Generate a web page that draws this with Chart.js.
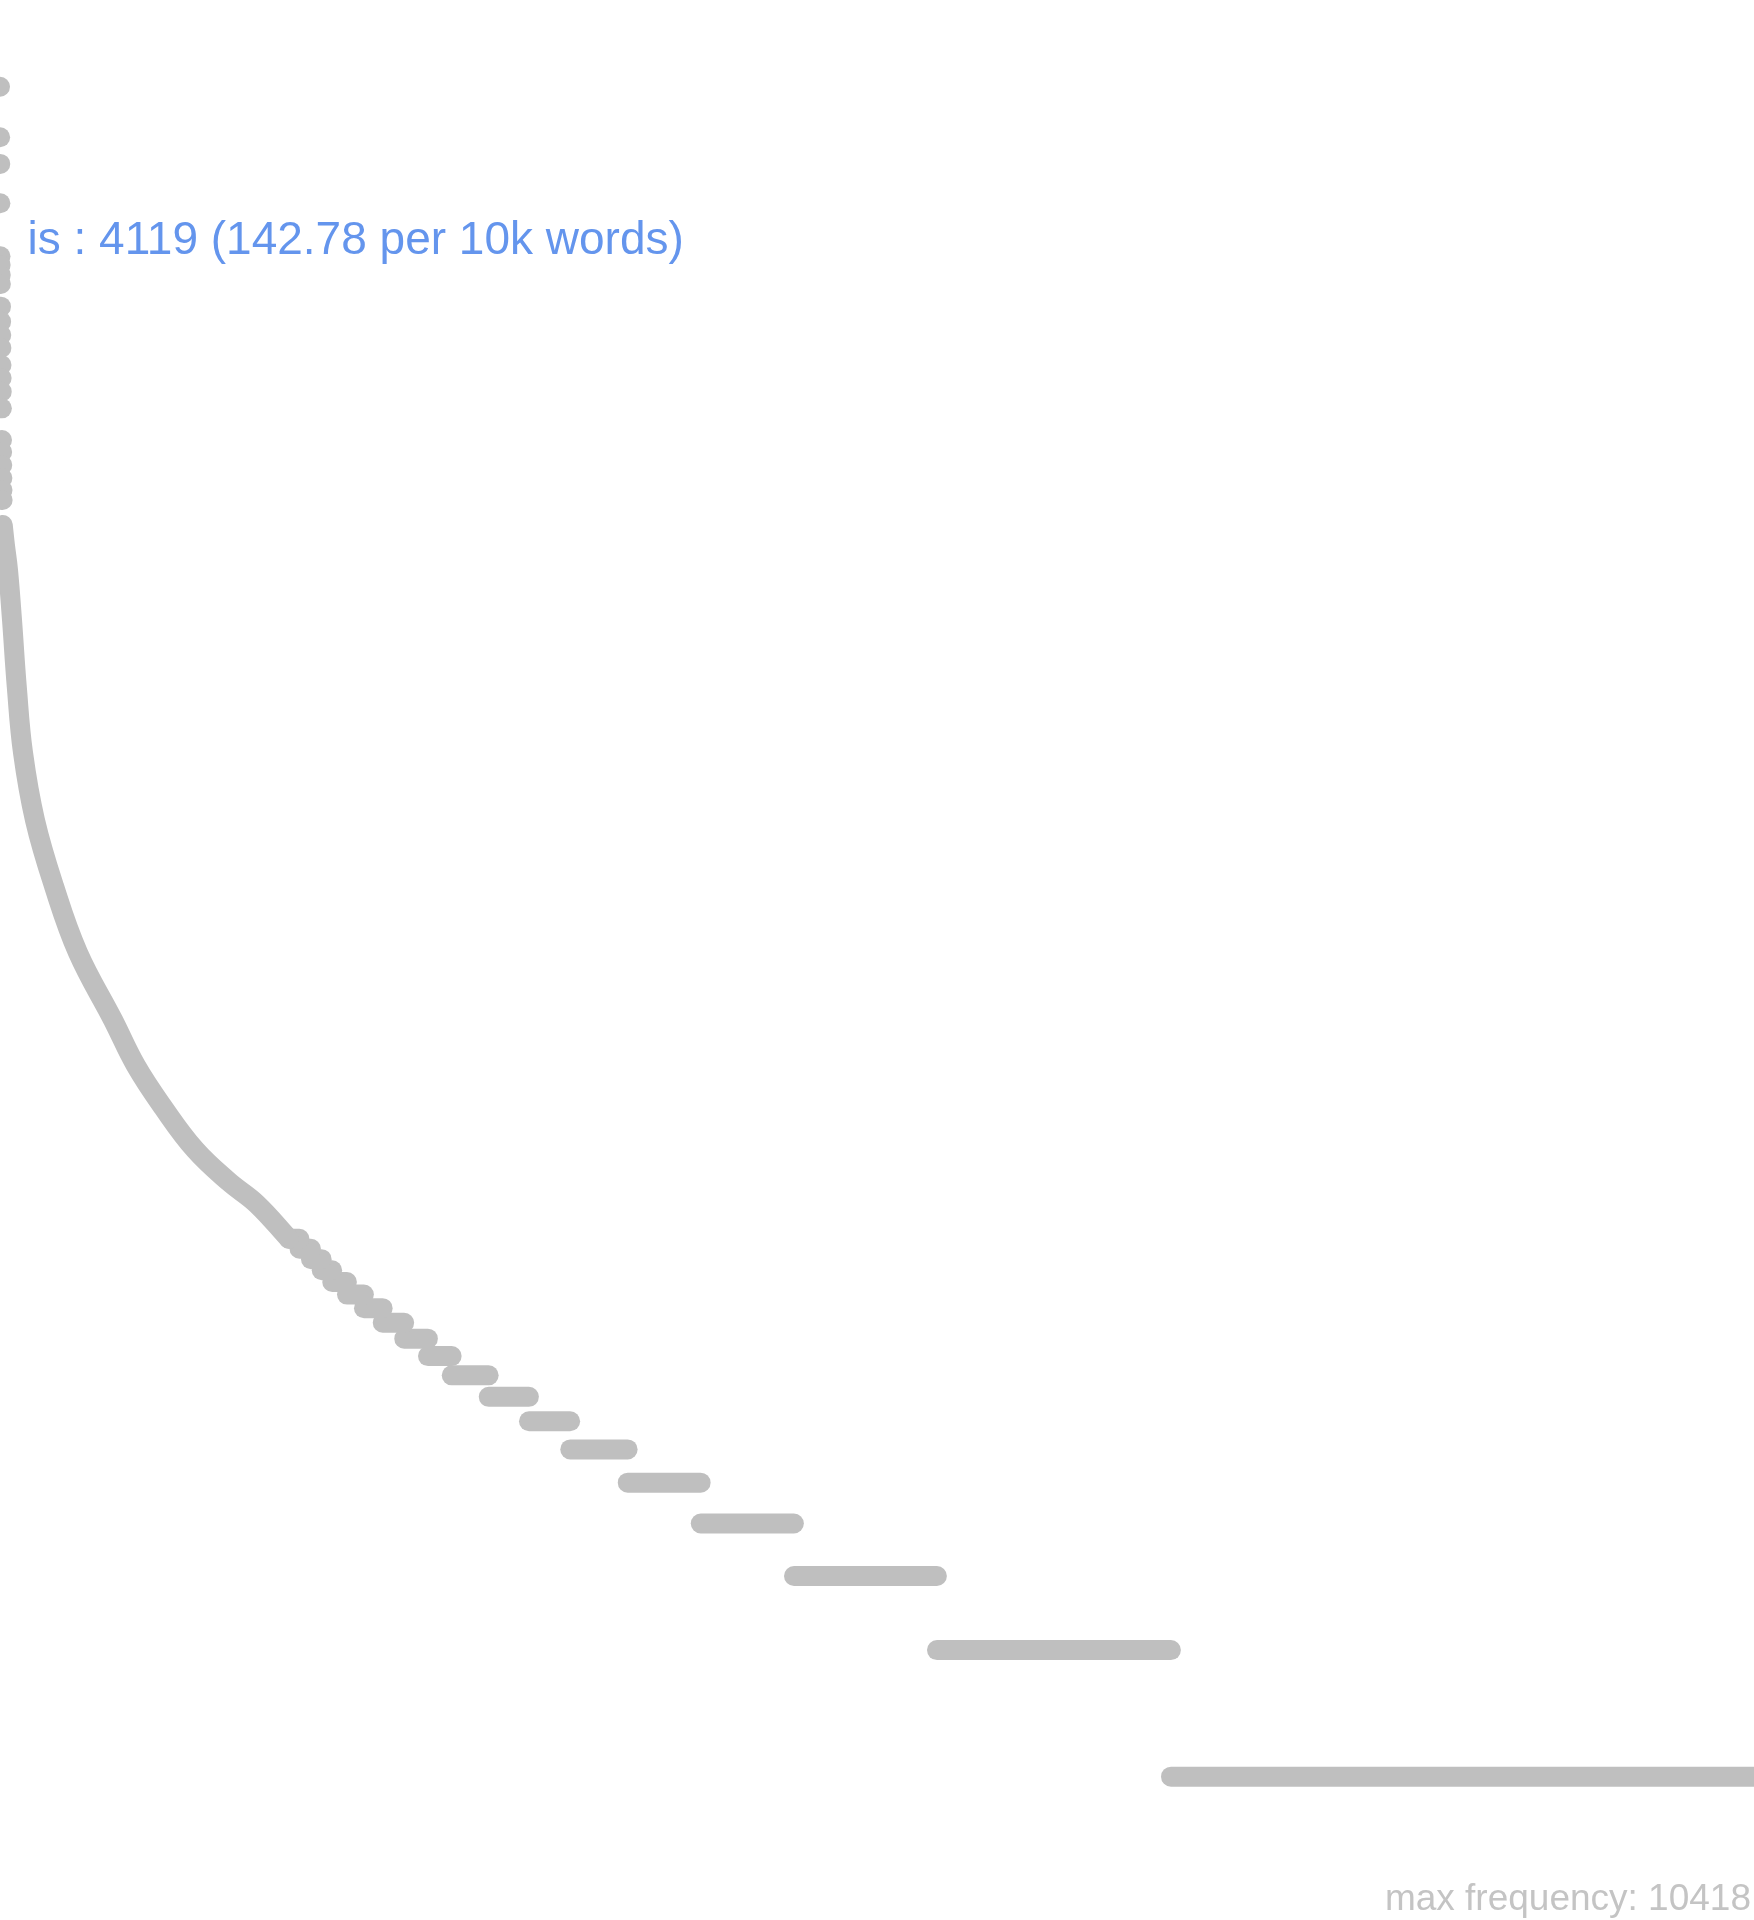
<!DOCTYPE html>
<html>
<head>
<meta charset="utf-8">
<script src="https://cdn.jsdelivr.net/npm/chart.js@4"></script>
<style>
  html, body { margin: 0; padding: 0; background: #ffffff; }
  #wrap { position: relative; width: 1754px; height: 1920px; }
</style>
</head>
<body>
<div id="wrap"><canvas id="c"></canvas></div>
<script>
// ---- data ----
// frequencies of the most frequent terms, ranks 1..22 (each drawn as its own dot)
const topFreqs = [10418, 7905, 6829, 5507, 4119, 3929, 3720, 3540, 3126, 2880, 2677, 2494,
                  2272, 2116, 1963, 1792, 1507, 1411, 1314, 1224, 1146, 1085];
// dense middle part of the curve (rank, frequency)
const curveRanks = [23, 40, 65, 97, 135, 185, 281, 433, 625, 905, 1089, 1307, 1560, 1830, 2055, 2313];
const curveFreqs = [946, 850, 740, 563, 391, 272, 188, 131, 91, 63, 49, 39, 31, 26, 23, 19];
// low frequencies: each frequency occupies a run of ranks (first rank of each run)
const stepFreqs      = [19, 18, 17, 16, 15, 14, 13, 12, 11, 10, 9, 8, 7, 6, 5, 4, 3, 2, 1];
const stepFirstRanks = [2313, 2397, 2489, 2575, 2659, 2777, 2913, 3063, 3235, 3425, 3615,
                        3911, 4233, 4563, 5023, 5607, 6353, 7497, 9369];
const totalTerms = 14033;
// highlighted term
const highlightTerm = 'is';
const highlightRank = 5;
const highlightPer10k = '142.78';

const GREY = '#bfbfbf';
const maxFreq = Math.max(...topFreqs);

const datasets = [];
datasets.push({
  type: 'scatter',
  data: topFreqs.map((f, i) => ({x: i + 1, y: f})),
  showLine: false,
  pointRadius: 10,
  pointHoverRadius: 10,
  pointBorderWidth: 0,
  backgroundColor: GREY,
  borderColor: GREY,
  clip: false
});
datasets.push({
  type: 'line',
  data: curveRanks.map((r, i) => ({x: r, y: curveFreqs[i]})),
  borderColor: GREY,
  borderWidth: 20,
  borderCapStyle: 'round',
  borderJoinStyle: 'round',
  pointRadius: 0,
  tension: 0.4,
  fill: false,
  clip: false
});
stepFreqs.forEach((f, i) => {
  const first = stepFirstRanks[i];
  const last = i + 1 < stepFirstRanks.length ? stepFirstRanks[i + 1] - 1 : totalTerms;
  datasets.push({
    type: 'line',
    data: [{x: first, y: f}, {x: last, y: f}],
    borderColor: GREY,
    borderWidth: 20,
    borderCapStyle: 'round',
    pointRadius: 0,
    fill: false,
    clip: false
  });
});

const labelPlugin = {
  id: 'labels',
  afterDatasetsDraw(chart) {
    const ctx = chart.ctx;
    const meta = chart.getDatasetMeta(0);
    const pt = meta.data[highlightRank - 1];
    ctx.save();
    ctx.font = '46px "Liberation Sans", Arial, sans-serif';
    ctx.fillStyle = '#6495ed';
    ctx.textAlign = 'left';
    ctx.textBaseline = 'alphabetic';
    const txt = highlightTerm + ' : ' + topFreqs[highlightRank - 1] + ' (' + highlightPer10k + ' per 10k words)';
    ctx.fillText(txt, pt.x + 27, pt.y - 2);
    ctx.font = '37px "Liberation Sans", Arial, sans-serif';
    ctx.fillStyle = '#c4c4c4';
    ctx.textAlign = 'right';
    ctx.fillText('max frequency: ' + maxFreq, chart.width - 3, 1910);
    ctx.restore();
  }
};

new Chart(document.getElementById('c'), {
  type: 'scatter',
  data: { datasets },
  options: {
    responsive: true,
    maintainAspectRatio: false,
    devicePixelRatio: 1,
    animation: false,
    layout: { padding: 0, autoPadding: false },
    plugins: { legend: { display: false }, tooltip: { enabled: false } },
    scales: {
      x: { type: 'linear', min: 1, max: totalTerms, bounds: 'data', display: false },
      y: { type: 'logarithmic', min: 0.4563, max: 16755, bounds: 'data', display: false }
    }
  },
  plugins: [labelPlugin]
});
</script>
</body>
</html>
